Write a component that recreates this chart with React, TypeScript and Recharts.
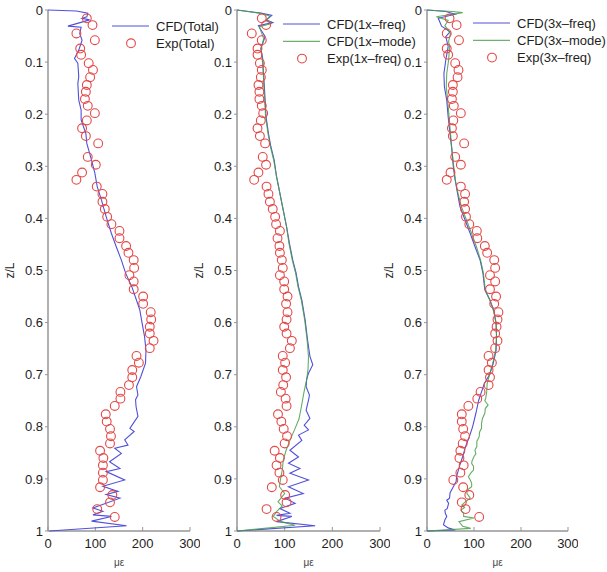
import React from "react";
import { ScatterChart, Scatter, XAxis, YAxis, Legend } from "recharts";

const BLUE = "#5050da";
const GREEN = "#4a9e4a";
const RED = "#e44848";
const AXIS = "#969696";
const INK = "#1e1e1e";
const FONT = "'Liberation Sans', Arial, Helvetica, sans-serif";

const zTicks = [0, 0.1, 0.2, 0.3, 0.4, 0.5, 0.6, 0.7, 0.8, 0.9, 1];
const strainTicks = [0, 100, 200, 300];

// measured gauge positions (same for all three panels)
const expZ = [
  0.016, 0.029, 0.045, 0.058, 0.074, 0.086, 0.102, 0.115, 0.129, 0.144,
  0.157, 0.171, 0.184, 0.198, 0.212, 0.227, 0.242, 0.256, 0.282, 0.297,
  0.312, 0.326, 0.339, 0.353, 0.368, 0.382, 0.397, 0.411, 0.424, 0.438,
  0.453, 0.466, 0.48, 0.495, 0.509, 0.521, 0.536, 0.55, 0.564, 0.58,
  0.594, 0.608, 0.621, 0.635, 0.649, 0.664, 0.677, 0.691, 0.705, 0.72,
  0.733, 0.746, 0.76, 0.776, 0.79, 0.804, 0.818, 0.832, 0.846, 0.86,
  0.874, 0.888, 0.902, 0.916, 0.931, 0.945, 0.958, 0.973,
];

const expTotal = [
  82, 94, 60, 99, 68, 70, 86, 95, 89, 82,
  80, 78, 84, 99, 82, 72, 80, 106, 84, 101,
  72, 60, 103, 115, 115, 120, 125, 134, 151, 151,
  165, 170, 181, 182, 172, 181, 181, 201, 201, 217,
  218, 215, 215, 223, 215, 187, 192, 178, 178, 171,
  153, 153, 141, 122, 124, 131, 133, 131, 110, 117,
  116, 116, 116, 110, 136, 131, 104, 141,
];

const exp1x = [
  52, 61, 31, 52, 43, 43, 48, 52, 50, 45,
  47, 47, 52, 55, 50, 43, 48, 59, 54, 61,
  45, 36, 62, 66, 69, 75, 80, 82, 90, 85,
  89, 90, 94, 96, 90, 99, 99, 106, 103, 106,
  104, 99, 104, 115, 111, 96, 101, 96, 103, 97,
  92, 102, 104, 86, 93, 98, 105, 100, 79, 90,
  83, 89, 96, 73, 101, 104, 62, 83,
];

const exp3x = [
  48, 63, 42, 68, 42, 45, 60, 67, 65, 55,
  55, 53, 57, 72, 56, 53, 55, 79, 60, 72,
  50, 42, 72, 81, 79, 81, 83, 90, 106, 107,
  123, 128, 143, 145, 134, 145, 134, 147, 143, 152,
  150, 148, 145, 150, 145, 131, 138, 131, 134, 131,
  114, 107, 88, 74, 74, 77, 81, 76, 71, 69,
  78, 71, 56, 77, 90, 74, 82, 111,
];

const cfdTotalZ = [
  0, 0.002, 0.006, 0.013, 0.016, 0.019, 0.031, 0.033, 0.045, 0.058,
  0.077, 0.093, 0.102, 0.128, 0.141, 0.173, 0.192, 0.211, 0.237, 0.256,
  0.288, 0.313, 0.339, 0.365, 0.397, 0.429, 0.454, 0.48, 0.505, 0.531,
  0.557, 0.576, 0.602, 0.627, 0.653, 0.678, 0.704, 0.723, 0.739, 0.748,
  0.761, 0.78, 0.803, 0.809, 0.825, 0.835, 0.841, 0.851, 0.867, 0.88,
  0.886, 0.902, 0.914, 0.924, 0.93, 0.937, 0.956, 0.962, 0.969, 0.972,
  0.981, 0.99, 1,
];
const cfdTotal = [
  0, 60, 84, 82, 72, 88, 42, 70, 67, 72,
  65, 56, 63, 65, 63, 65, 70, 70, 80, 82,
  92, 99, 104, 113, 123, 134, 144, 155, 164, 177,
  187, 194, 199, 204, 207, 206, 196, 187, 190, 185,
  186, 190, 173, 182, 162, 169, 141, 155, 130, 152,
  123, 162, 116, 148, 123, 152, 95, 116, 95, 134,
  92, 166, 3,
];

const cfd1xZ = [
  0, 0.006, 0.01, 0.019, 0.024, 0.03, 0.035, 0.051, 0.074, 0.093,
  0.115, 0.141, 0.173, 0.205, 0.237, 0.262, 0.288, 0.32, 0.352, 0.384,
  0.416, 0.448, 0.48, 0.505, 0.531, 0.557, 0.595, 0.633, 0.665, 0.681,
  0.697, 0.71, 0.723, 0.739, 0.749, 0.768, 0.784, 0.797, 0.806, 0.816,
  0.826, 0.845, 0.858, 0.87, 0.88, 0.889, 0.902, 0.915, 0.928, 0.937,
  0.947, 0.957, 0.966, 0.97, 0.972, 0.982, 0.99, 1,
];
const cfd1x = [
  0, 50, 73, 62, 75, 45, 48, 59, 50, 54,
  55, 57, 59, 61, 66, 71, 78, 83, 90, 97,
  104, 110, 117, 124, 129, 136, 143, 148, 153, 159,
  150, 146, 145, 152, 150, 145, 153, 141, 150, 129,
  136, 111, 129, 108, 132, 111, 150, 108, 139, 101,
  122, 90, 111, 83, 115, 83, 164, 0,
];

const mode1xZ = [
  0, 0.006, 0.012, 0.02, 0.026, 0.032, 0.04, 0.055, 0.075, 0.095,
  0.115, 0.141, 0.173, 0.205, 0.237, 0.262, 0.288, 0.32, 0.352, 0.384,
  0.416, 0.448, 0.48, 0.505, 0.531, 0.557, 0.595, 0.633, 0.665, 0.69,
  0.71, 0.736, 0.762, 0.785, 0.805, 0.826, 0.845, 0.864, 0.883, 0.902,
  0.915, 0.928, 0.944, 0.952, 0.962, 0.972, 0.982, 0.989, 1,
];
const mode1x = [
  0, 48, 70, 60, 72, 47, 50, 56, 50, 53,
  55, 56, 58, 60, 65, 70, 77, 83, 90, 97,
  104, 109, 116, 123, 128, 135, 142, 147, 150, 149,
  146, 140, 135, 130, 121, 111, 103, 97, 95, 91,
  89, 100, 86, 95, 84, 76, 92, 122, 0,
];

const cfd3xZ = [
  0, 0.003, 0.008, 0.016, 0.031, 0.042, 0.051, 0.07, 0.096, 0.122,
  0.147, 0.173, 0.205, 0.237, 0.269, 0.301, 0.326, 0.352, 0.377, 0.403,
  0.429, 0.454, 0.48, 0.505, 0.537, 0.557, 0.579, 0.602, 0.627, 0.653,
  0.678, 0.7, 0.717, 0.733, 0.749, 0.774, 0.8, 0.819, 0.838, 0.857,
  0.876, 0.895, 0.905, 0.915, 0.927, 0.937, 0.941, 0.947, 0.957, 0.96,
  0.966, 0.972, 0.979, 0.988, 0.994, 0.998, 1,
];
const cfd3x = [
  0, 40, 60, 24, 31, 49, 40, 45, 40, 36,
  37, 42, 45, 49, 53, 56, 60, 65, 70, 81,
  92, 102, 113, 119, 123, 134, 143, 147, 148, 147,
  141, 133, 122, 116, 110, 104, 97, 90, 82, 76,
  69, 63, 62, 56, 49, 48, 42, 46, 43, 38,
  39, 42, 38, 35, 45, 60, 0,
];

const mode3xZ = [
  0, 0.003, 0.005, 0.013, 0.02, 0.03, 0.045, 0.06, 0.07, 0.096,
  0.122, 0.147, 0.173, 0.205, 0.237, 0.269, 0.301, 0.326, 0.352, 0.377,
  0.403, 0.429, 0.454, 0.48, 0.505, 0.537, 0.557, 0.579, 0.602, 0.627,
  0.653, 0.678, 0.7, 0.717, 0.733, 0.745, 0.75, 0.758, 0.765, 0.774,
  0.784, 0.794, 0.803, 0.81, 0.819, 0.828, 0.838, 0.845, 0.852, 0.857,
  0.865, 0.87, 0.876, 0.883, 0.889, 0.896, 0.902, 0.908, 0.915, 0.922,
  0.928, 0.934, 0.937, 0.941, 0.95, 0.955, 0.96, 0.966, 0.972, 0.975,
  0.982, 0.991, 0.995, 1,
];
const mode3x = [
  0, 55, 76, 20, 45, 38, 50, 46, 48, 46,
  42, 41, 44, 47, 50, 53, 57, 60, 66, 73,
  84, 95, 105, 114, 120, 124, 134, 142, 147, 148,
  146, 140, 133, 128, 127, 125, 123, 130, 124, 123,
  118, 116, 116, 112, 111, 106, 106, 102, 104, 100,
  96, 95, 99, 99, 93, 88, 92, 95, 95, 85,
  85, 90, 92, 86, 74, 80, 72, 78, 78, 100,
  68, 76, 93, 0,
];

const toPoints = (zs: number[], vs: number[]) => zs.map((z, i) => ({ z, v: vs[i] }));

type Series = { name: string; kind: "line" | "circle"; color: string; points: { z: number; v: number }[] };

const Hollow = (props: any) => (
  <circle cx={props.cx} cy={props.cy} r={4.4} fill="none" stroke={RED} strokeWidth={1.1} />
);
const NoDot = () => <g />;

const SideLabel = ({ viewBox }: any) => {
  const cx = viewBox.x + 10;
  const cy = viewBox.y + viewBox.height / 2;
  return (
    <text x={cx} y={cy} transform={`rotate(-90 ${cx} ${cy})`} textAnchor="middle"
      dominantBaseline="central" fontSize={12} fontFamily={FONT} fill={INK}>
      z/L
    </text>
  );
};

const BottomLabel = ({ viewBox }: any) => (
  <text x={viewBox.x + viewBox.width / 2} y={viewBox.y + 31} textAnchor="middle"
    dominantBaseline="central" fontSize={10} fontFamily={FONT} fill="#444">
    με
  </text>
);

const LegendBox = ({ rows }: { rows: Series[] }) => (
  <svg width={150} height={rows.length * 17.3 + 4} style={{ display: "block", overflow: "visible" }}>
    {rows.map((r, i) => {
      const y = 9 + i * 17.3;
      return (
        <g key={r.name}>
          {r.kind === "line" ? (
            <line x1={0} x2={37} y1={y} y2={y} stroke={r.color} strokeWidth={1} />
          ) : (
            <circle cx={19} cy={y} r={4.4} fill="none" stroke={r.color} strokeWidth={1.1} />
          )}
          <text x={44} y={y} dominantBaseline="central" fontSize={13} fontFamily={FONT} fill={INK}>
            {r.name}
          </text>
        </g>
      );
    })}
  </svg>
);

interface PanelProps {
  left: number;
  plotWidth: number;
  legendLeft: number;
  legendTop: number;
  series: Series[];
}

const Panel: React.FC<PanelProps> = ({ left, plotWidth, legendLeft, legendTop, series }) => {
  const width = 48 + plotWidth + 10;
  return (
    <div style={{ position: "absolute", left, top: 0 }}>
      <ScatterChart width={width} height={572} margin={{ top: 10, right: 10, bottom: 11, left: 0 }}>
        <XAxis
          type="number"
          dataKey="v"
          domain={[0, 300]}
          ticks={strainTicks}
          interval={0}
          height={30}
          tickSize={-4}
          tickMargin={12}
          axisLine={{ stroke: AXIS, strokeWidth: 1.5 }}
          tickLine={{ stroke: AXIS }}
          tick={{ fill: INK, fontSize: 13, fontFamily: FONT }}
          label={(p: any) => <BottomLabel {...p} />}
        />
        <YAxis
          type="number"
          dataKey="z"
          domain={[0, 1]}
          reversed
          ticks={zTicks}
          interval={0}
          width={48}
          tickSize={3}
          tickMargin={2}
          axisLine={{ stroke: AXIS, strokeWidth: 1.5 }}
          tickLine={{ stroke: AXIS }}
          tick={{ fill: INK, fontSize: 13, fontFamily: FONT }}
          label={(p: any) => <SideLabel {...p} />}
        />
        {series.map((s) =>
          s.kind === "line" ? (
            <Scatter
              key={s.name}
              name={s.name}
              data={s.points}
              fill={s.color}
              line={{ stroke: s.color, strokeWidth: 1.1, strokeOpacity: s.color === GREEN ? 0.85 : 1 }}
              lineType="joint"
              shape={NoDot}
              isAnimationActive={false}
            />
          ) : (
            <Scatter
              key={s.name}
              name={s.name}
              data={s.points}
              fill="none"
              shape={Hollow}
              isAnimationActive={false}
            />
          )
        )}
        <Legend
          layout="vertical"
          align="center"
          verticalAlign="middle"
          wrapperStyle={{ position: "absolute", left: legendLeft, top: legendTop, width: 150 }}
          content={() => <LegendBox rows={series} />}
        />
      </ScatterChart>
    </div>
  );
};

export default function App() {
  const totalSeries: Series[] = [
    { name: "CFD(Total)", kind: "line", color: BLUE, points: toPoints(cfdTotalZ, cfdTotal) },
    { name: "Exp(Total)", kind: "circle", color: RED, points: toPoints(expZ, expTotal) },
  ];
  const oneXSeries: Series[] = [
    { name: "CFD(1x–freq)", kind: "line", color: BLUE, points: toPoints(cfd1xZ, cfd1x) },
    { name: "CFD(1x–mode)", kind: "line", color: GREEN, points: toPoints(mode1xZ, mode1x) },
    { name: "Exp(1x–freq)", kind: "circle", color: RED, points: toPoints(expZ, exp1x) },
  ];
  const threeXSeries: Series[] = [
    { name: "CFD(3x–freq)", kind: "line", color: BLUE, points: toPoints(cfd3xZ, cfd3x) },
    { name: "CFD(3x–mode)", kind: "line", color: GREEN, points: toPoints(mode3xZ, mode3x) },
    { name: "Exp(3x–freq)", kind: "circle", color: RED, points: toPoints(expZ, exp3x) },
  ];

  return (
    <div style={{ position: "absolute", left: 0, top: 0, width: 607, height: 572, background: "#fff" }}>
      <Panel left={0} plotWidth={142} legendLeft={112} legendTop={17} series={totalSeries} />
      <Panel left={189} plotWidth={143} legendLeft={94} legendTop={15} series={oneXSeries} />
      <Panel left={379} plotWidth={141} legendLeft={94} legendTop={14} series={threeXSeries} />
    </div>
  );
}
